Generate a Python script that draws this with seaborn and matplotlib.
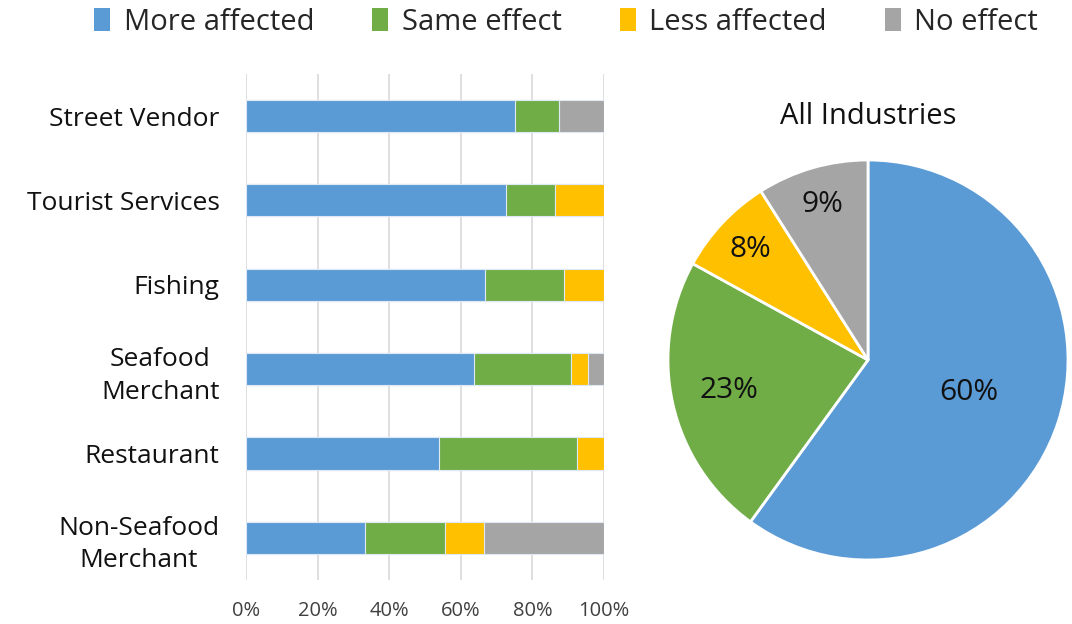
import numpy as np
import pandas as pd
import matplotlib
matplotlib.use("Agg")
import matplotlib.pyplot as plt
import seaborn as sns
from matplotlib.patches import Patch

sns.set_theme(style="white")
plt.rcParams['font.family'] = ['Open Sans', 'DejaVu Sans']

# Data
industries = ['Street Vendor', 'Tourist Services', 'Fishing',
              'Seafood\nMerchant', 'Restaurant', 'Non-Seafood\nMerchant']
effects = ['More affected', 'Same effect', 'Less affected', 'No effect']
more_affected = [75.0, 72.7, 66.7, 63.6, 53.8, 33.3]
same_effect = [12.5, 13.6, 22.2, 27.3, 38.5, 22.2]
less_affected = [0.0, 13.7, 11.1, 4.5, 7.7, 11.1]
no_effect = [12.5, 0.0, 0.0, 4.6, 0.0, 33.4]
all_industries = [60, 23, 8, 9]

colors = ['#5B9BD5', '#70AD47', '#FFC000', '#A5A5A5']

df = pd.DataFrame({'Industry': industries,
                   'More affected': more_affected,
                   'Same effect': same_effect,
                   'Less affected': less_affected,
                   'No effect': no_effect})
cum = df[effects].cumsum(axis=1)

fig = plt.figure(figsize=(10.72, 6.24), dpi=100)

# Stacked bars
ax = fig.add_axes([0.2295, 0.0705, 0.334, 0.811])
for eff, col in reversed(list(zip(effects, colors))):
    sns.barplot(x=cum[eff], y=df['Industry'], orient='h', color=col,
                width=0.38, edgecolor='#dfe9f5', linewidth=0.8,
                saturation=1, ax=ax)
ax.set_xlim(0, 100)
ax.set_xticks(range(0, 101, 20))
ax.set_xticklabels([f"{v}%" for v in range(0, 101, 20)], fontsize=14.5, color='#404040')
ax.set_xlabel('')
ax.set_ylabel('')
ax.tick_params(axis='y', length=0, pad=19)
ax.tick_params(axis='x', length=0, pad=15)
for lbl in ax.get_yticklabels():
    lbl.set_fontsize(19)
    lbl.set_multialignment('center')
    lbl.set_linespacing(1.4)
    lbl.set_color('#111111')
ax.grid(axis='x', color='#d9d9d9', linewidth=1.2)
ax.set_axisbelow(True)
for s in ax.spines.values():
    s.set_visible(False)

# Pie
pax = fig.add_axes([668 / 1072, 64 / 624, 400 / 1072, 400 / 624])
wedges, texts = pax.pie(all_industries, colors=colors, startangle=90,
                        counterclock=False,
                        wedgeprops=dict(edgecolor='white', linewidth=2))
for w, v in zip(wedges, all_industries):
    ang = np.deg2rad((w.theta1 + w.theta2) / 2)
    r = 0.53 if v > 50 else (0.71 if v > 15 else 0.81)
    pax.text(r * np.cos(ang), r * np.sin(ang), f"{v}%", ha='center',
             va='center', fontsize=21.5, color='#111111')
pax.set_xlim(-1, 1)
pax.set_ylim(-1, 1)
pax.set_aspect('equal')
pax.set_title('All Industries', fontsize=21, color='#111111', pad=26)

# Legend
handles = [Patch(facecolor=c, edgecolor='none') for c in colors]
fig.legend(handles, effects, loc='upper center', ncol=4, frameon=False,
           fontsize=21, bbox_to_anchor=(0.528, 1.03), handlelength=0.55,
           handleheight=0.85, handletextpad=0.45, columnspacing=2.0)

fig.savefig('out.png', dpi=100)
